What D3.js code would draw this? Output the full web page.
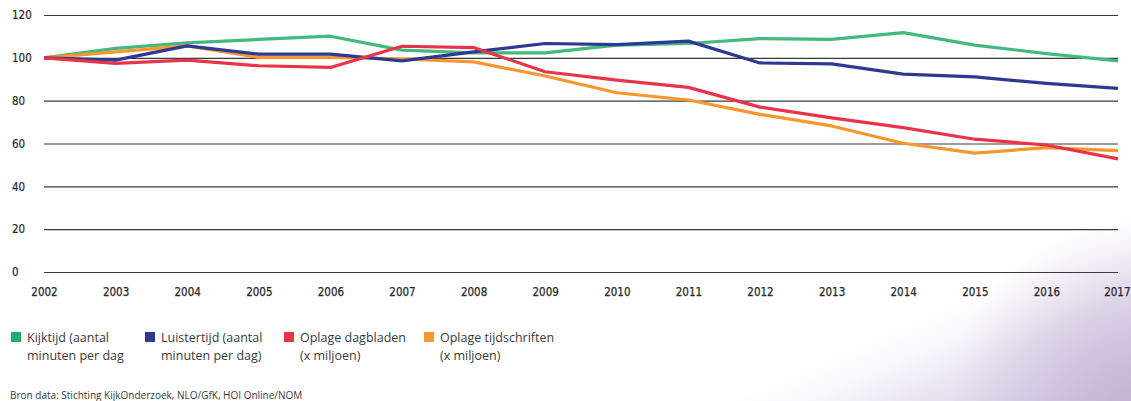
<!DOCTYPE html>
<html>
<head>
<meta charset="utf-8">
<script src="https://cdn.jsdelivr.net/npm/d3@7"></script>
<style>
  body { margin: 0; background: #fff; }
  svg { display: block; }
</style>
</head>
<body>
<div id="chart"></div>
<script>
const years = [2002, 2003, 2004, 2005, 2006, 2007, 2008, 2009, 2010, 2011, 2012, 2013, 2014, 2015, 2016, 2017]
const kijktijd = [100, 104.4, 107, 108.6, 110.1, 103.6, 102.3, 102.3, 105.9, 106.7, 109, 108.6, 111.8, 105.9, 102, 98.6]
const luistertijd = [100, 98.9, 105.6, 101.7, 101.7, 98.6, 102.8, 106.7, 106.2, 107.8, 97.6, 97.2, 92.4, 91.1, 88.1, 85.7]
const dagbladen = [100, 97.4, 98.9, 96.3, 95.5, 105.4, 104.8, 93.5, 89.6, 86.2, 77, 72, 67.4, 62, 59.3, 52.8]
const tijdschriften = [100, 102.8, 105.6, 100.2, 100.2, 99.5, 98.1, 91.5, 83.7, 80.3, 73.6, 68.2, 60.1, 55.5, 58.1, 56.7]
const yTicks = [0, 20, 40, 60, 80, 100, 120]

const series = [
    {name: ['Kijktijd (aantal', 'minuten per dag'], values: kijktijd, color: '#43b97f', key: '#1fae6f'},
    {name: ['Luistertijd (aantal', 'minuten per dag)'], values: luistertijd, color: '#2e3a92', key: '#2e3a92'},
    {name: ['Oplage dagbladen', '(x miljoen)'], values: dagbladen, color: '#e8344a', key: '#e8344a'},
    {name: ['Oplage tijdschriften', '(x miljoen)'], values: tijdschriften, color: '#f7972e', key: '#f7972e'}
]

const W = 1131, H = 401
const MARGIN = {TOP: 15, LEFT: 44, RIGHT: 13, BOTTOM: 129}
const TICK_FONT = '"Liberation Sans Narrow", "DejaVu Sans Condensed", sans-serif'

const svg = d3.select('#chart').append('svg')
    .attr('width', W)
    .attr('height', H)

// lavender wash in the bottom right corner
const defs = svg.append('defs')
const wash = defs.append('linearGradient')
    .attr('id', 'wash')
    .attr('gradientUnits', 'userSpaceOnUse')
    .attr('x1', 710).attr('y1', 390)
    .attr('x2', 785).attr('y2', 560)
wash.append('stop').attr('offset', '0%').attr('stop-color', '#ffffff').attr('stop-opacity', 0)
wash.append('stop').attr('offset', '45%').attr('stop-color', '#ebe8f3')
wash.append('stop').attr('offset', '100%').attr('stop-color', '#cdc6df')
const corner = defs.append('radialGradient')
    .attr('id', 'corner')
    .attr('gradientUnits', 'userSpaceOnUse')
    .attr('cx', 1131).attr('cy', 401).attr('r', 180)
corner.append('stop').attr('offset', '0%').attr('stop-color', '#c2aed0').attr('stop-opacity', 0.75)
corner.append('stop').attr('offset', '100%').attr('stop-color', '#c2aed0').attr('stop-opacity', 0)
svg.append('rect').attr('width', W).attr('height', H).attr('fill', '#fff')
svg.append('rect').attr('width', W).attr('height', H).attr('fill', 'url(#wash)')
svg.append('rect').attr('width', W).attr('height', H).attr('fill', 'url(#corner)')

const x = d3.scaleLinear()
    .domain([2002, 2017])
    .range([MARGIN.LEFT, W - MARGIN.RIGHT])

const y = d3.scaleLinear()
    .domain([0, 120])
    .range([H - MARGIN.BOTTOM, MARGIN.TOP])

// gridlines + y labels
const yAxis = d3.axisLeft(y)
    .tickValues(yTicks)
    .tickSize(-(W - MARGIN.RIGHT - MARGIN.LEFT))
    .tickFormat(d3.format('d'))
svg.append('g')
    .attr('transform', `translate(${MARGIN.LEFT},0)`)
    .call(yAxis)
    .call(g => g.select('.domain').remove())
    .call(g => g.selectAll('.tick line').attr('stroke', '#3a3a3a').attr('stroke-width', 1.2))
    .call(g => g.selectAll('.tick text')
        .attr('x', -32)
        .attr('text-anchor', 'start')
        .attr('fill', '#2a2a2a')
        .attr('stroke', '#2a2a2a')
        .attr('stroke-width', 0.2)
        .style('font-family', TICK_FONT)
        .style('font-size', '11.5px'))

// year labels
const xAxis = d3.axisBottom(x)
    .tickValues(years)
    .tickSize(0)
    .tickFormat(d3.format('d'))
svg.append('g')
    .attr('transform', `translate(0,${H - MARGIN.BOTTOM + 13})`)
    .call(xAxis)
    .call(g => g.select('.domain').remove())
    .call(g => g.selectAll('.tick text')
        .attr('fill', '#2a2a2a')
        .attr('stroke', '#2a2a2a')
        .attr('stroke-width', 0.25)
        .style('font-family', TICK_FONT)
        .style('font-size', '11.5px'))
    // last year sits against the right edge, keep it inside
    .call(g => g.selectAll('.tick text').filter(d => d === 2017)
        .attr('text-anchor', 'end')
        .attr('x', W - 1 - x(2017)))

const line = d3.line()
    .x((d, i) => x(years[i]))
    .y(d => y(d))

// draw order: green, orange, blue, red (red ends up on top like the picture)
const order = [0, 3, 1, 2]
svg.append('g').selectAll('path')
    .data(order.map(i => series[i]))
    .enter()
    .append('path')
    .attr('d', d => line(d.values))
    .attr('fill', 'none')
    .attr('stroke', d => d.color)
    .attr('stroke-width', 3.2)
    .attr('stroke-linejoin', 'round')

// legend
const legendX = [11, 145, 284, 424]
const legend = svg.append('g').selectAll('g')
    .data(series)
    .enter()
    .append('g')
    .attr('transform', (d, i) => `translate(${legendX[i]},332)`)
legend.append('rect')
    .attr('width', 10).attr('height', 10)
    .attr('fill', d => d.key)
legend.append('text')
    .attr('x', 16)
    .attr('y', 10)
    .attr('fill', '#3a3a3a')
    .style('font-family', '"Open Sans", "Liberation Sans", sans-serif')
    .style('font-size', '12.5px')
    .selectAll('tspan')
    .data(d => d.name)
    .enter()
    .append('tspan')
    .attr('x', 16)
    .attr('dy', (d, i) => i ? 18 : 0)
    .text(d => d)

svg.append('text')
    .attr('x', 10)
    .attr('y', 399)
    .attr('fill', '#3a3a3a')
    .style('font-family', '"Open Sans", "Liberation Sans", sans-serif')
    .style('font-size', '10px')
    .text('Bron data: Stichting KijkOnderzoek, NLO/GfK, HOI Online/NOM')
</script>
</body>
</html>
